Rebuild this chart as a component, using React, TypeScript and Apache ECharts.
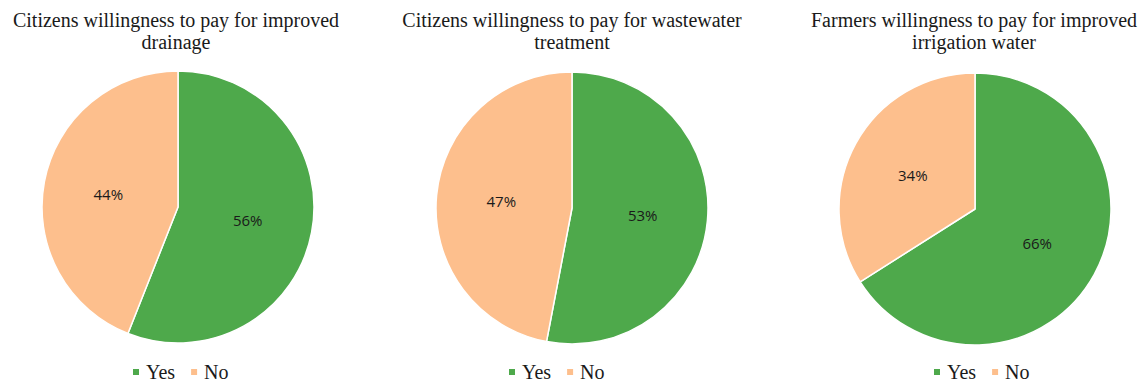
import React, { useEffect, useRef } from "react";
import * as echarts from "echarts";

const categories = ["Yes", "No"];
const drainageValues = [56, 44];
const wastewaterValues = [53, 47];
const irrigationValues = [66, 34];
const chartTitles = [
  "Citizens willingness to pay for improved\ndrainage",
  "Citizens willingness to pay for wastewater\ntreatment",
  "Farmers willingness to pay for improved\nirrigation water",
];
const colors = ["#4EA94B", "#FDBF8D"];
const SERIF = "'Liberation Serif', 'Times New Roman', serif";

export default function App() {
  const ref = useRef<HTMLDivElement>(null);
  useEffect(() => {
    if (!ref.current) return;
    const chart = echarts.init(ref.current, undefined, { renderer: "svg" });
    const centers = [
      [178, 207],
      [572, 208],
      [975, 209],
    ];
    const valueSets = [drainageValues, wastewaterValues, irrigationValues];
    const titleX = [176, 572, 974];
    const legendLeft = [131, 507, 932];
    const legendTop = [362, 362, 362];
    chart.setOption({
      animation: false,
      color: colors,
      title: chartTitles.map((t, i) => ({
        text: t,
        left: titleX[i],
        top: 9,
        padding: 0,
        textAlign: "center",
        textStyle: {
          fontFamily: SERIF,
          fontWeight: "normal",
          fontSize: 20,
          color: "#1a1a1a",
          lineHeight: 22,
        },
      })),
      legend: legendLeft.map((l, i) => ({
        data: categories,
        left: l,
        top: legendTop[i],
        padding: 0,
        icon: "rect",
        itemWidth: 8,
        itemHeight: 8,
        itemGap: 14,
        textStyle: {
          fontFamily: SERIF,
          fontSize: 20,
          color: "#1a1a1a",
          padding: [0, 0, 0, 1],
        },
      })),
      series: valueSets.map((vals, i) => ({
        type: "pie",
        center: centers[i],
        radius: 136,
        startAngle: 90,
        clockwise: true,
        data: categories.map((c, j) => ({ name: c, value: vals[j] })),
        itemStyle: { borderColor: "#ffffff", borderWidth: 1.5 },
        label: {
          position: "inside",
          formatter: "{c}%",
          fontFamily: "'Open Sans', sans-serif",
          fontSize: 15,
          color: "#1a1a1a",
        },
        labelLine: { show: false },
        emphasis: { disabled: true },
      })),
    });
    return () => chart.dispose();
  }, []);
  return (
    <div
      ref={ref}
      style={{ position: "fixed", left: 0, top: 0, width: 1143, height: 382, background: "#ffffff" }}
    />
  );
}
